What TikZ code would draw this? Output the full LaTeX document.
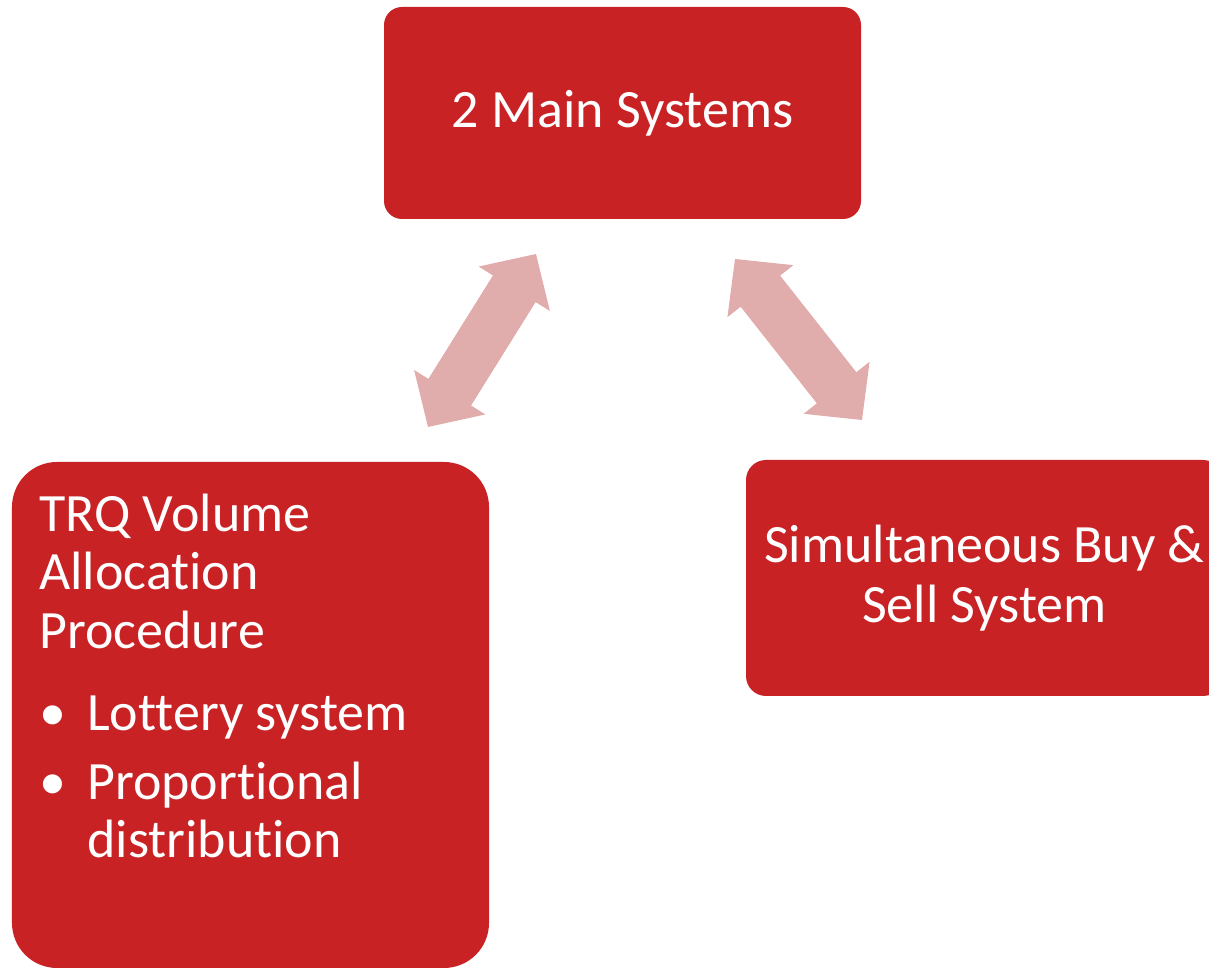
\documentclass[tikz,border=0pt]{standalone}
\usepackage{fontspec}
\setmainfont{Carlito}[Ligatures=NoCommon]
\usetikzlibrary{arrows.meta}
\definecolor{boxred}{RGB}{201,34,37}
\definecolor{arrowpink}{RGB}{225,172,172}

\begin{document}
\begin{tikzpicture}[
	box/.style = {fill=boxred,text=white,inner sep=0pt,minimum width=9.54cm,font=\fontsize{30.7}{34}\selectfont},
	twoway/.style = {draw=arrowpink,line width=1cm,
		preaction={draw=arrowpink,line width=1cm,-,shorten <=0.6cm,shorten >=0.6cm},
		{Triangle[length=0.82cm,width=1.68cm,line width=0pt]}-{Triangle[length=0.82cm,width=1.68cm,line width=0pt]}}
	]
	\useasboundingbox (0,0) rectangle (24.18,19.4);
	%BOX
	\node[box,minimum height=4.24cm,rounded corners=0.36cm] (main) at (12.45,17.14) {2 Main Systems};
	\node[box,minimum height=10.12cm,rounded corners=0.9cm] (trq) at (5.01,5.10) {};
	\node[box,minimum height=4.72cm,rounded corners=0.4cm,align=center] (sbs) at (19.69,7.84) {Simultaneous Buy \&\\Sell System};
	%Testo procedura (ancorato all'ultima riga)
	\node[anchor=base west,text=white,align=left,inner sep=0pt,font=\fontsize{30.7}{33.3}\selectfont] (trqtext) at (0.78,2.24)
		{TRQ Volume\\Allocation\\Procedure\\[0.48cm]
		\makebox[0.96cm][l]{\hspace{0.01cm}•}Lottery system\\[0.2cm]
		\makebox[0.96cm][l]{\hspace{0.01cm}•}Proportional\\
		\hspace*{0.96cm}distribution};
	%Frecce
	\coordinate (l1) at (8.56,10.86);
	\coordinate (l2) at (10.72,14.32);
	\coordinate (r1) at (14.70,14.22);
	\coordinate (r2) at (17.24,11.00);
	\draw[twoway] (l1) -- (l2);
	\draw[twoway] (r1) -- (r2);
\end{tikzpicture}
\end{document}
